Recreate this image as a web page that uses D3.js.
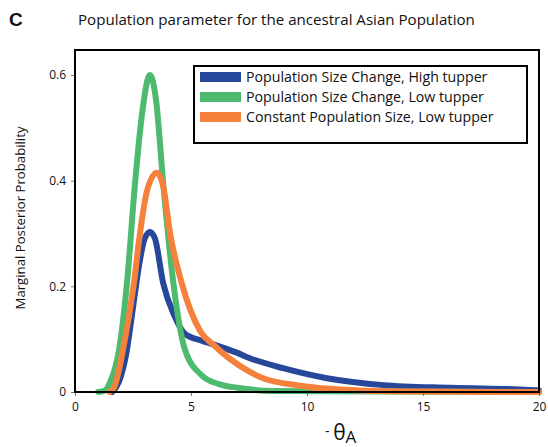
<!DOCTYPE html>
<html>
<head>
<meta charset="utf-8">
<script src="https://cdn.jsdelivr.net/npm/d3@7"></script>
<style>
  body { margin: 0; background: #fff; }
  text { font-family: "Open Sans", "Noto Sans", sans-serif; fill: #111; }
</style>
</head>
<body>
<script>
const w = 548;
const h = 447;

// theta (x) and marginal posterior probability (y)
const blueX = [1.6, 1.9, 2.2, 2.5, 2.8, 3.0, 3.23, 3.45, 3.8, 4.3, 4.74, 5.4, 6.25, 7.0, 7.54, 8.97, 10.86, 13.3, 16.2, 19.6, 20];
const blueY = [0, 0.02, 0.07, 0.16, 0.25, 0.29, 0.303, 0.29, 0.206, 0.143, 0.11, 0.098, 0.086, 0.074, 0.064, 0.045, 0.026, 0.013, 0.008, 0.004, 0.003];

const greenX = [1.0, 1.3, 1.5, 1.9, 2.24, 2.59, 2.9, 3.23, 3.5, 3.8, 4.24, 4.74, 5.5, 6.2, 7.0, 8.5, 20];
const greenY = [0, 0.003, 0.017, 0.08, 0.206, 0.396, 0.53, 0.6, 0.55, 0.396, 0.206, 0.08, 0.03, 0.015, 0.008, 0.002, 0];

const orangeX = [1.5, 1.7, 2.07, 2.54, 2.8, 3.1, 3.53, 3.8, 4.1, 4.6, 5.4, 6.0, 6.7, 7.5, 8.0, 9.7, 11, 12.3, 15, 20];
const orangeY = [0, 0.01, 0.08, 0.206, 0.3, 0.38, 0.415, 0.39, 0.3, 0.206, 0.115, 0.088, 0.062, 0.039, 0.028, 0.012, 0.006, 0.003, 0.001, 0];

const seriesNames = [
  "Population Size Change, High tupper",
  "Population Size Change, Low tupper",
  "Constant Population Size, Low tupper"
];
const seriesColors = ["#26479a", "#4dba6e", "#f5813d"];

const xTicks = [0, 5, 10, 15, 20];
const yTicks = [0, 0.2, 0.4, 0.6];

const plotLeft = 75, plotRight = 539, plotTop = 50, plotBottom = 392;

const svg = d3.select("body").append("svg").attr("width", w).attr("height", h);

const xScale = d3.scaleLinear().domain([0, 20]).range([plotLeft, plotRight]);
const yScale = d3.scaleLinear().domain([0, 0.6]).range([plotBottom, 75]);

// curves, orange on top
const series = [
  { x: blueX, y: blueY },
  { x: greenX, y: greenY },
  { x: orangeX, y: orangeY }
];

const line = d3.line()
  .x(d => xScale(d[0]))
  .y(d => yScale(d[1]))
  .curve(d3.curveMonotoneX);

svg.append("g")
  .selectAll("path")
  .data(series)
  .enter()
  .append("path")
  .attr("d", s => line(s.x.map((v, i) => [v, s.y[i]])))
  .attr("fill", "none")
  .attr("stroke", (s, i) => seriesColors[i])
  .attr("stroke-width", 6)
  .attr("stroke-linejoin", "round")
  .attr("stroke-linecap", "round");

// axes
const xAxis = d3.axisBottom(xScale).tickValues(xTicks).tickSize(4).tickPadding(6).tickFormat(d3.format("d"));
const yAxis = d3.axisLeft(yScale).tickValues(yTicks).tickSize(4).tickPadding(5).tickFormat(d => d === 0 ? "0" : d3.format(".1f")(d));

const gx = svg.append("g").attr("transform", "translate(0," + plotBottom + ")").call(xAxis);
const gy = svg.append("g").attr("transform", "translate(" + plotLeft + ",0)").call(yAxis);

[gx, gy].forEach(g => {
  g.select(".domain").remove();
  g.selectAll(".tick line").attr("stroke", "#777");
  g.selectAll("text").style("font-size", "12px").attr("fill", "#111");
});

// plot frame
svg.append("rect")
  .attr("x", plotLeft).attr("y", plotTop)
  .attr("width", plotRight - plotLeft).attr("height", plotBottom - plotTop)
  .attr("fill", "none").attr("stroke", "#000").attr("stroke-width", 2);

// legend
const legend = svg.append("g");
legend.append("rect")
  .attr("x", 194).attr("y", 66).attr("width", 333).attr("height", 77)
  .attr("fill", "#fff").attr("stroke", "#000").attr("stroke-width", 2);

seriesNames.forEach((name, i) => {
  const yy = 77 + i * 20;
  legend.append("rect")
    .attr("x", 200).attr("y", yy - 5).attr("width", 41).attr("height", 10)
    .attr("fill", seriesColors[i]);
  legend.append("text")
    .attr("x", 246).attr("y", yy + 5)
    .style("font-size", "14.2px")
    .text(name);
});

// titles
svg.append("text")
  .attr("x", 9).attr("y", 26)
  .style("font-family", "'Liberation Sans', Arial, sans-serif")
  .style("font-weight", "bold").style("font-size", "19px")
  .text("C");

svg.append("text")
  .attr("x", 78).attr("y", 25)
  .style("font-size", "15.1px")
  .text("Population parameter for the ancestral Asian Population");

svg.append("text")
  .attr("transform", "translate(25,218) rotate(-90)")
  .attr("text-anchor", "middle")
  .style("font-size", "13.2px")
  .text("Marginal Posterior Probability");

const xl = svg.append("text")
  .attr("x", 325).attr("y", 440)
  .style("font-size", "21px");
xl.append("tspan").style("font-size", "14px").attr("dy", -4).text("- ");
xl.append("tspan").attr("dy", 4).text("θ");
xl.append("tspan").style("font-size", "17px").attr("dy", 3).text("A");
</script>
</body>
</html>
